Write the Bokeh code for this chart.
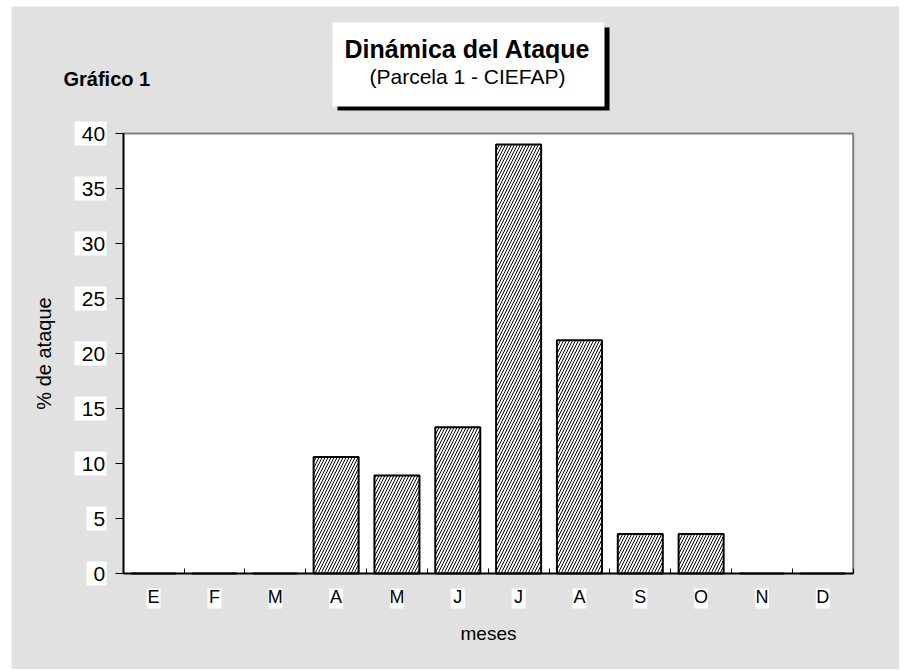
from bokeh.plotting import figure
from bokeh.models import Range1d, FixedTicker, Label, BoxAnnotation
from bokeh.embed import file_html
from bokeh.resources import INLINE

# ---- data ----
months = ["E", "F", "M", "A", "M", "J", "J", "A", "S", "O", "N", "D"]
ataque = [0, 0, 0, 10.6, 8.9, 13.3, 39.0, 21.2, 3.6, 3.6, 0, 0]
y_ticks = [0, 5, 10, 15, 20, 25, 30, 35, 40]
y_max = 40
title_text = "Dinámica del Ataque"
subtitle_text = "(Parcela 1 - CIEFAP)"
chart_tag = "Gráfico 1"
x_label = "meses"
y_label = "% de ataque"

FONT = "Liberation Sans"
GREY = "#e1e1e1"

# ---- geometry (canvas pixels) ----
W, H = 888, 663
PL, PR, PT, PB = 111.7, 841.7, 127.0, 567.0   # plot area inside the canvas
n = len(months)
ppx = (PR - PL) / n
ppy = (PB - PT) / y_max
x_lo, x_hi = -PL / ppx, n + (W - PR) / ppx
y_lo, y_hi = -(H - PB) / ppy, y_max + PT / ppy

xs = [i + 0.5 for i in range(n)]

p = figure(width=W, height=H, output_backend="svg", toolbar_location=None,
           x_range=Range1d(x_lo, x_hi), y_range=Range1d(y_lo, y_hi),
           min_border=0, min_border_left=0, min_border_right=0,
           min_border_top=0, min_border_bottom=0)
p.margin = (6, 0, 0, 11)
p.border_fill_color = GREY
p.background_fill_color = GREY
p.outline_line_color = None
p.grid.visible = False

# white plot area with grey top/right border
p.quad(left=[0], right=[n], bottom=[0], top=[y_max], fill_color="white", line_color=None)
p.line(x=[0, n, n], y=[y_max, y_max, 0], line_color="#808080", line_width=2)

# white boxes behind tick labels
y_lab_w = [12 * len(str(t)) + 8 for t in y_ticks]
y_lab_x = [-(16.7 + w / 2) / ppx for w in y_lab_w]
p.rect(x=y_lab_x, y=y_ticks, width=y_lab_w, height=[24] * len(y_ticks),
       width_units="screen", height_units="screen", fill_color="white", line_color=None)
p.rect(x=xs, y=[-25 / ppy] * n, width=[14] * n, height=[20] * n,
       width_units="screen", height_units="screen", fill_color="white", line_color=None)

p.vbar(x=xs, top=ataque, width=0.74, bottom=0,
       fill_color="white", line_color="black", line_width=2,
       hatch_pattern="/", hatch_color="black", hatch_scale=6, hatch_weight=1)

# x axis
xa = p.xaxis[0]
xa.fixed_location = 0
xa.bounds = (0, n)
xa.ticker = FixedTicker(ticks=xs, minor_ticks=list(range(n + 1)))
xa.major_label_overrides = {x: m for x, m in zip(xs, months)}
xa.major_tick_line_color = None
xa.minor_tick_line_color = "black"
xa.minor_tick_in = 5
xa.minor_tick_out = 0
xa.axis_line_color = "black"
xa.axis_line_width = 2
xa.major_label_text_font = FONT
xa.major_label_text_font_size = "18px"
xa.major_label_text_color = "black"
xa.major_label_standoff = 7
xa.axis_label = x_label
xa.axis_label_text_font = FONT
xa.axis_label_text_font_size = "19px"
xa.axis_label_text_font_style = "normal"
xa.axis_label_text_color = "black"
xa.axis_label_standoff = 13

# y axis
ya = p.yaxis[0]
ya.fixed_location = 0
ya.bounds = (0, y_max)
ya.ticker = FixedTicker(ticks=y_ticks, minor_ticks=[])
ya.major_tick_in = 0
ya.major_tick_out = 8
ya.major_tick_line_color = "black"
ya.major_tick_line_width = 1
ya.axis_line_color = "black"
ya.axis_line_width = 2
ya.major_label_text_font = FONT
ya.major_label_text_font_size = "21px"
ya.major_label_text_color = "black"
ya.major_label_standoff = 10
ya.axis_label = y_label
ya.axis_label_text_font = FONT
ya.axis_label_text_font_size = "20px"
ya.axis_label_text_font_style = "normal"
ya.axis_label_text_color = "black"
ya.axis_label_standoff = 24

# title box with shadow (screen units; the frame covers the whole canvas)
scr = dict(left_units="screen", right_units="screen", top_units="screen", bottom_units="screen")
p.add_layout(BoxAnnotation(left=326, right=598, top=642, bottom=559,
                           fill_color="black", fill_alpha=1, line_color=None, **scr))
p.add_layout(BoxAnnotation(left=321, right=593, top=647, bottom=563,
                           fill_color="white", fill_alpha=1, line_color=None, **scr))
p.add_layout(Label(x=456, y=621, x_units="screen", y_units="screen", text=title_text,
                   text_font=FONT, text_font_size="25px", text_font_style="bold",
                   text_align="center", text_baseline="alphabetic", text_color="black"))
p.add_layout(Label(x=456, y=593, x_units="screen", y_units="screen", text=subtitle_text,
                   text_font=FONT, text_font_size="21px", text_font_style="normal",
                   text_align="center", text_baseline="alphabetic", text_color="black"))
p.add_layout(Label(x=52, y=591, x_units="screen", y_units="screen", text=chart_tag,
                   text_font=FONT, text_font_size="20px", text_font_style="bold",
                   text_align="left", text_baseline="alphabetic", text_color="black"))

open("out.html", "w").write(file_html(p, INLINE))
